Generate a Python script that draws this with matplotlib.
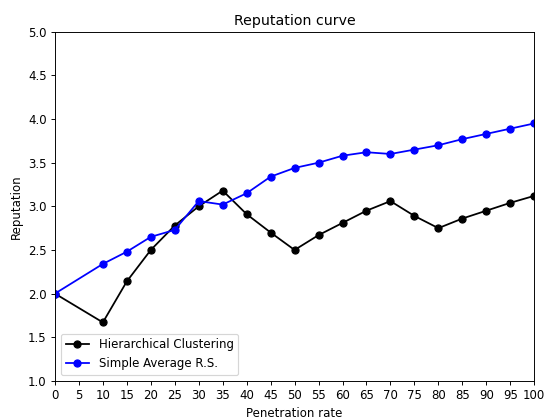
import matplotlib
matplotlib.use('Agg')
import matplotlib.pyplot as plt

# penetration rates (x) and reputation values
rates = [0, 10, 15, 20, 25, 30, 35, 40, 45, 50, 55, 60, 65, 70, 75, 80, 85, 90, 95, 100]
hierarchical = [2.00, 1.67, 2.14, 2.50, 2.78, 3.00, 3.18, 2.91, 2.70, 2.50,
                2.67, 2.81, 2.95, 3.06, 2.89, 2.75, 2.86, 2.95, 3.04, 3.12]
simple_avg = [2.00, 2.34, 2.48, 2.65, 2.73, 3.06, 3.02, 3.15, 3.34, 3.44,
              3.50, 3.58, 3.62, 3.60, 3.65, 3.70, 3.77, 3.83, 3.89, 3.95]
x_ticks = list(range(0, 101, 5))

# 6.4 x 4.93 in at 85 dpi -> 544 x 419 px
fig = plt.figure(figsize=(6.4, 4.93), dpi=85)
ax = fig.add_axes([0.101, 0.091, 0.881, 0.833])

ax.plot(rates, hierarchical, 'o-', color='black', label='Hierarchical Clustering')
ax.plot(rates, simple_avg, 'o-', color='blue', label='Simple Average R.S.')

ax.set_xlim(0, 100)
ax.set_ylim(1.0, 5.0)
ax.set_xticks(x_ticks)
ax.set_title("Reputation curve")
ax.set_xlabel("Penetration rate")
ax.set_ylabel("Reputation")
ax.legend(loc='lower left')

fig.savefig('out.png', dpi=85)
